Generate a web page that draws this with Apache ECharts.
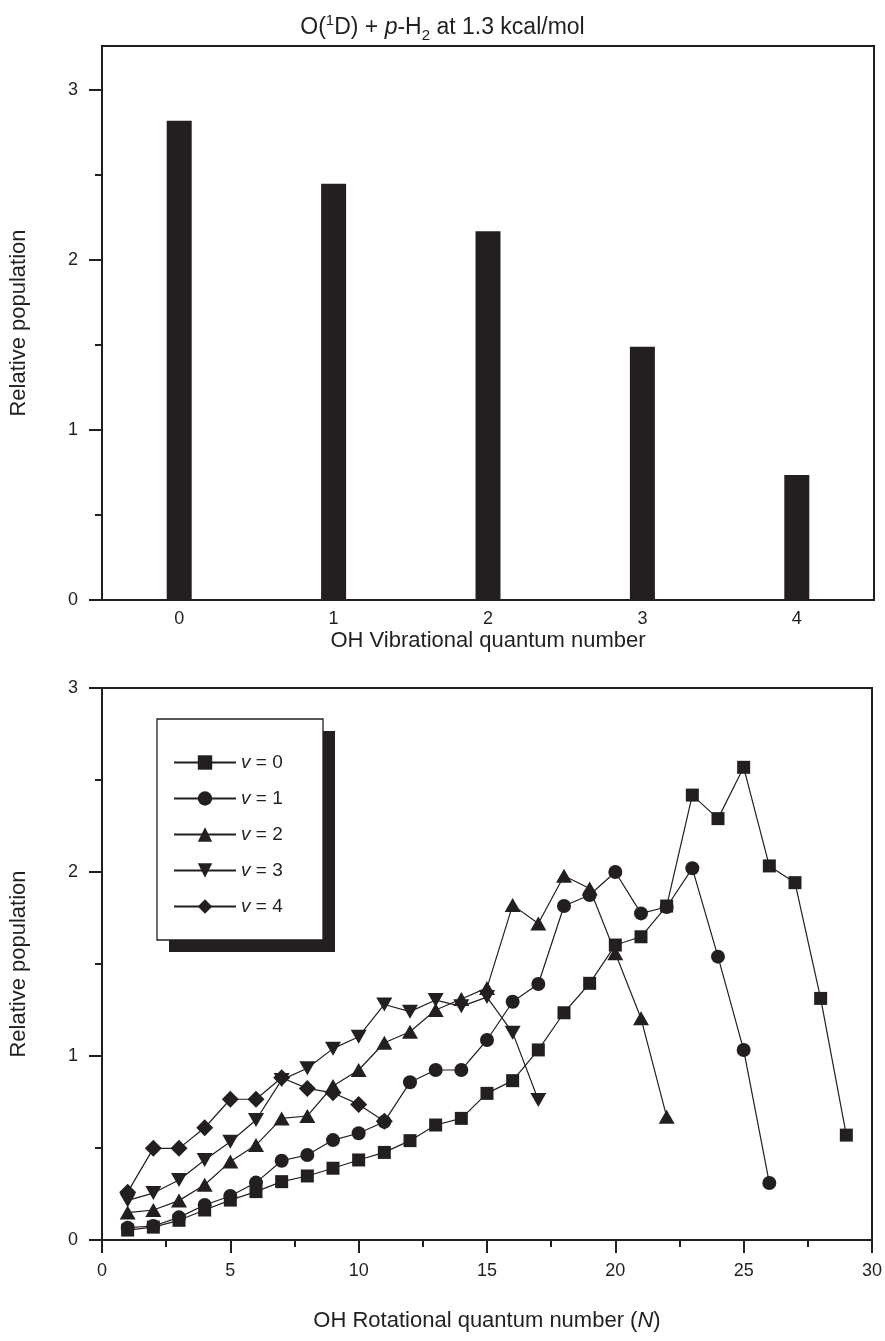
<!DOCTYPE html>
<html><head><meta charset="utf-8">
<script src="https://cdn.jsdelivr.net/npm/echarts@6/dist/echarts.min.js"></script>
<style>html,body{margin:0;padding:0;background:#fff}#c{width:885px;height:1341px}</style>
</head><body><div id="c"></div>
<script>
// ---- data ----
const vibLevels = ['0', '1', '2', '3', '4'];
const vibPopulation = [2.82, 2.45, 2.17, 1.49, 0.735];

const rotV0 = [0.054, 0.070, 0.107, 0.163, 0.217, 0.263, 0.317, 0.348, 0.390, 0.435, 0.476, 0.540, 0.625, 0.661, 0.797, 0.866, 1.033, 1.235, 1.395, 1.603, 1.648, 1.815, 2.418, 2.290, 2.569, 2.033, 1.942, 1.313, 0.570];
const rotV1 = [0.067, 0.076, 0.123, 0.190, 0.239, 0.312, 0.431, 0.462, 0.543, 0.580, 0.643, 0.857, 0.924, 0.924, 1.087, 1.295, 1.391, 1.815, 1.875, 2.000, 1.775, 1.810, 2.020, 1.540, 1.033, 0.310];
const rotV2 = [0.149, 0.163, 0.214, 0.300, 0.426, 0.516, 0.661, 0.674, 0.837, 0.924, 1.072, 1.132, 1.250, 1.310, 1.370, 1.820, 1.720, 1.980, 1.910, 1.558, 1.205, 0.670];
const rotV3 = [0.215, 0.255, 0.326, 0.435, 0.534, 0.652, 0.870, 0.933, 1.040, 1.105, 1.280, 1.241, 1.304, 1.270, 1.320, 1.127, 0.761];
const rotV4 = [0.260, 0.498, 0.498, 0.610, 0.765, 0.765, 0.882, 0.824, 0.800, 0.737, 0.645];

const seriesNames = ['v = 0', 'v = 1', 'v = 2', 'v = 3', 'v = 4'];
const yTickValues = [0, 1, 2, 3];
const yMinorTickValues = [0.5, 1.5, 2.5];

// ---- chart ----
const INK = '#231f20';
const FONT = '"Liberation Sans", Arial, Helvetica, sans-serif';
const toPairs = arr => arr.map((v, i) => [i + 1, v]);

const rotData = [rotV0, rotV1, rotV2, rotV3, rotV4];
const symbols = ['rect', 'circle', 'triangle', 'triangle', 'diamond'];
const symbolSizes = [13, 14, [16, 14], [16, 14], 17];
const rotations = [0, 0, 0, 180, 0];

const lineSeries = rotData.map((arr, k) => ({
  type: 'line',
  name: seriesNames[k],
  xAxisIndex: 1,
  yAxisIndex: 2,
  data: toPairs(arr),
  symbol: symbols[k],
  symbolSize: symbolSizes[k],
  symbolRotate: rotations[k],
  showAllSymbol: true,
  lineStyle: { color: INK, width: 1.2 },
  itemStyle: { color: INK },
  z: 2 + (4 - k) * 0.01
}));

const TICK_FS = 18;
const NAME_FS = 22;

const chart = echarts.init(document.getElementById('c'), null, { renderer: 'canvas' });
chart.setOption({
  animation: false,
  backgroundColor: '#fff',
  textStyle: { fontFamily: FONT, color: INK },
  title: {
    text: 'O({sup|1}D) + {it|p}-H{sub|2} at 1.3 kcal/mol',
    left: 'center',
    top: 8,
    textStyle: {
      fontFamily: FONT, fontSize: 23, fontWeight: 'normal', color: INK, lineHeight: 30,
      rich: {
        sup: { fontFamily: FONT, fontSize: 15, color: INK, verticalAlign: 'top', lineHeight: 18 },
        sub: { fontFamily: FONT, fontSize: 15, color: INK, verticalAlign: 'bottom', lineHeight: 14 },
        it: { fontFamily: FONT, fontSize: 23, color: INK, fontStyle: 'italic', lineHeight: 30 }
      }
    }
  },
  grid: [
    { left: 102, right: 11, top: 46, height: 554, show: true, borderColor: INK, borderWidth: 2, backgroundColor: 'transparent' },
    { left: 102, right: 11, top: 688, height: 552, show: true, borderColor: INK, borderWidth: 2, backgroundColor: 'transparent' }
  ],
  xAxis: [
    {
      gridIndex: 0, type: 'category', data: vibLevels,
      axisLine: { lineStyle: { color: INK, width: 2 } },
      axisTick: { show: false },
      axisLabel: { fontSize: TICK_FS, color: INK, margin: 10, fontFamily: FONT },
      name: 'OH Vibrational quantum number', nameLocation: 'middle', nameGap: 30,
      nameTextStyle: { fontSize: NAME_FS, color: INK, fontFamily: FONT }
    },
    {
      gridIndex: 1, type: 'value', min: 0, max: 30, interval: 5,
      axisLine: { lineStyle: { color: INK, width: 2 } },
      axisTick: { show: true, length: 13, lineStyle: { color: INK, width: 2 } },
      minorTick: { show: true, splitNumber: 2, length: 7, lineStyle: { color: INK, width: 2 } },
      splitLine: { show: false },
      axisLabel: { fontSize: TICK_FS, color: INK, margin: 22, fontFamily: FONT },
      name: 'OH Rotational quantum number ({i|N})', nameLocation: 'middle', nameGap: 70,
      nameTextStyle: {
        fontSize: NAME_FS, color: INK, fontFamily: FONT,
        rich: { i: { fontSize: NAME_FS, fontStyle: 'italic', color: INK, fontFamily: FONT } }
      }
    }
  ],
  yAxis: [
    {
      gridIndex: 0, type: 'value', min: 0, max: 3.26, position: 'left',
      axisLine: { show: true, lineStyle: { color: INK, width: 2 } },
      axisTick: { show: true, length: 13, customValues: yTickValues, lineStyle: { color: INK, width: 2 } },
      axisLabel: { fontSize: TICK_FS, color: INK, margin: 24, customValues: yTickValues, fontFamily: FONT },
      splitLine: { show: false },
      name: 'Relative population', nameLocation: 'middle', nameGap: 72, nameRotate: 90,
      nameTextStyle: { fontSize: NAME_FS, color: INK, fontFamily: FONT }
    },
    {
      gridIndex: 0, type: 'value', min: 0, max: 3.26, position: 'left', offset: 0,
      axisLine: { show: false },
      axisTick: { show: true, length: 7, customValues: yMinorTickValues, lineStyle: { color: INK, width: 2 } },
      axisLabel: { show: false },
      splitLine: { show: false }
    },
    {
      gridIndex: 1, type: 'value', min: 0, max: 3, interval: 1, position: 'left',
      axisLine: { show: true, lineStyle: { color: INK, width: 2 } },
      axisTick: { show: true, length: 13, lineStyle: { color: INK, width: 2 } },
      minorTick: { show: true, splitNumber: 2, length: 7, lineStyle: { color: INK, width: 2 } },
      axisLabel: { fontSize: TICK_FS, color: INK, margin: 24, fontFamily: FONT },
      splitLine: { show: false },
      name: 'Relative population', nameLocation: 'middle', nameGap: 72, nameRotate: 90,
      nameTextStyle: { fontSize: NAME_FS, color: INK, fontFamily: FONT }
    }
  ],
  graphic: [
    { type: 'rect', z: 3, shape: { x: 169, y: 731, width: 166, height: 221 }, style: { fill: INK } },
    { type: 'rect', z: 3, shape: { x: 157, y: 719, width: 166, height: 221 }, style: { fill: '#fff', stroke: INK, lineWidth: 1.3 } }
  ],
  legend: {
    data: seriesNames,
    orient: 'vertical',
    left: 173, top: 753,
    padding: 0,
    itemWidth: 62, itemHeight: 18, itemGap: 17,
    selectedMode: false,
    z: 5,
    formatter: n => '{i|v}' + n.slice(1),
    textStyle: {
      fontSize: 19, color: INK, fontFamily: FONT, lineHeight: 18,
      rich: { i: { fontSize: 19, fontStyle: 'italic', color: INK, fontFamily: FONT, lineHeight: 18 } }
    }
  },
  series: [
    {
      type: 'bar', xAxisIndex: 0, yAxisIndex: 0,
      data: vibPopulation, barWidth: 25,
      itemStyle: { color: INK }
    },
    ...lineSeries
  ]
});
</script></body></html>
